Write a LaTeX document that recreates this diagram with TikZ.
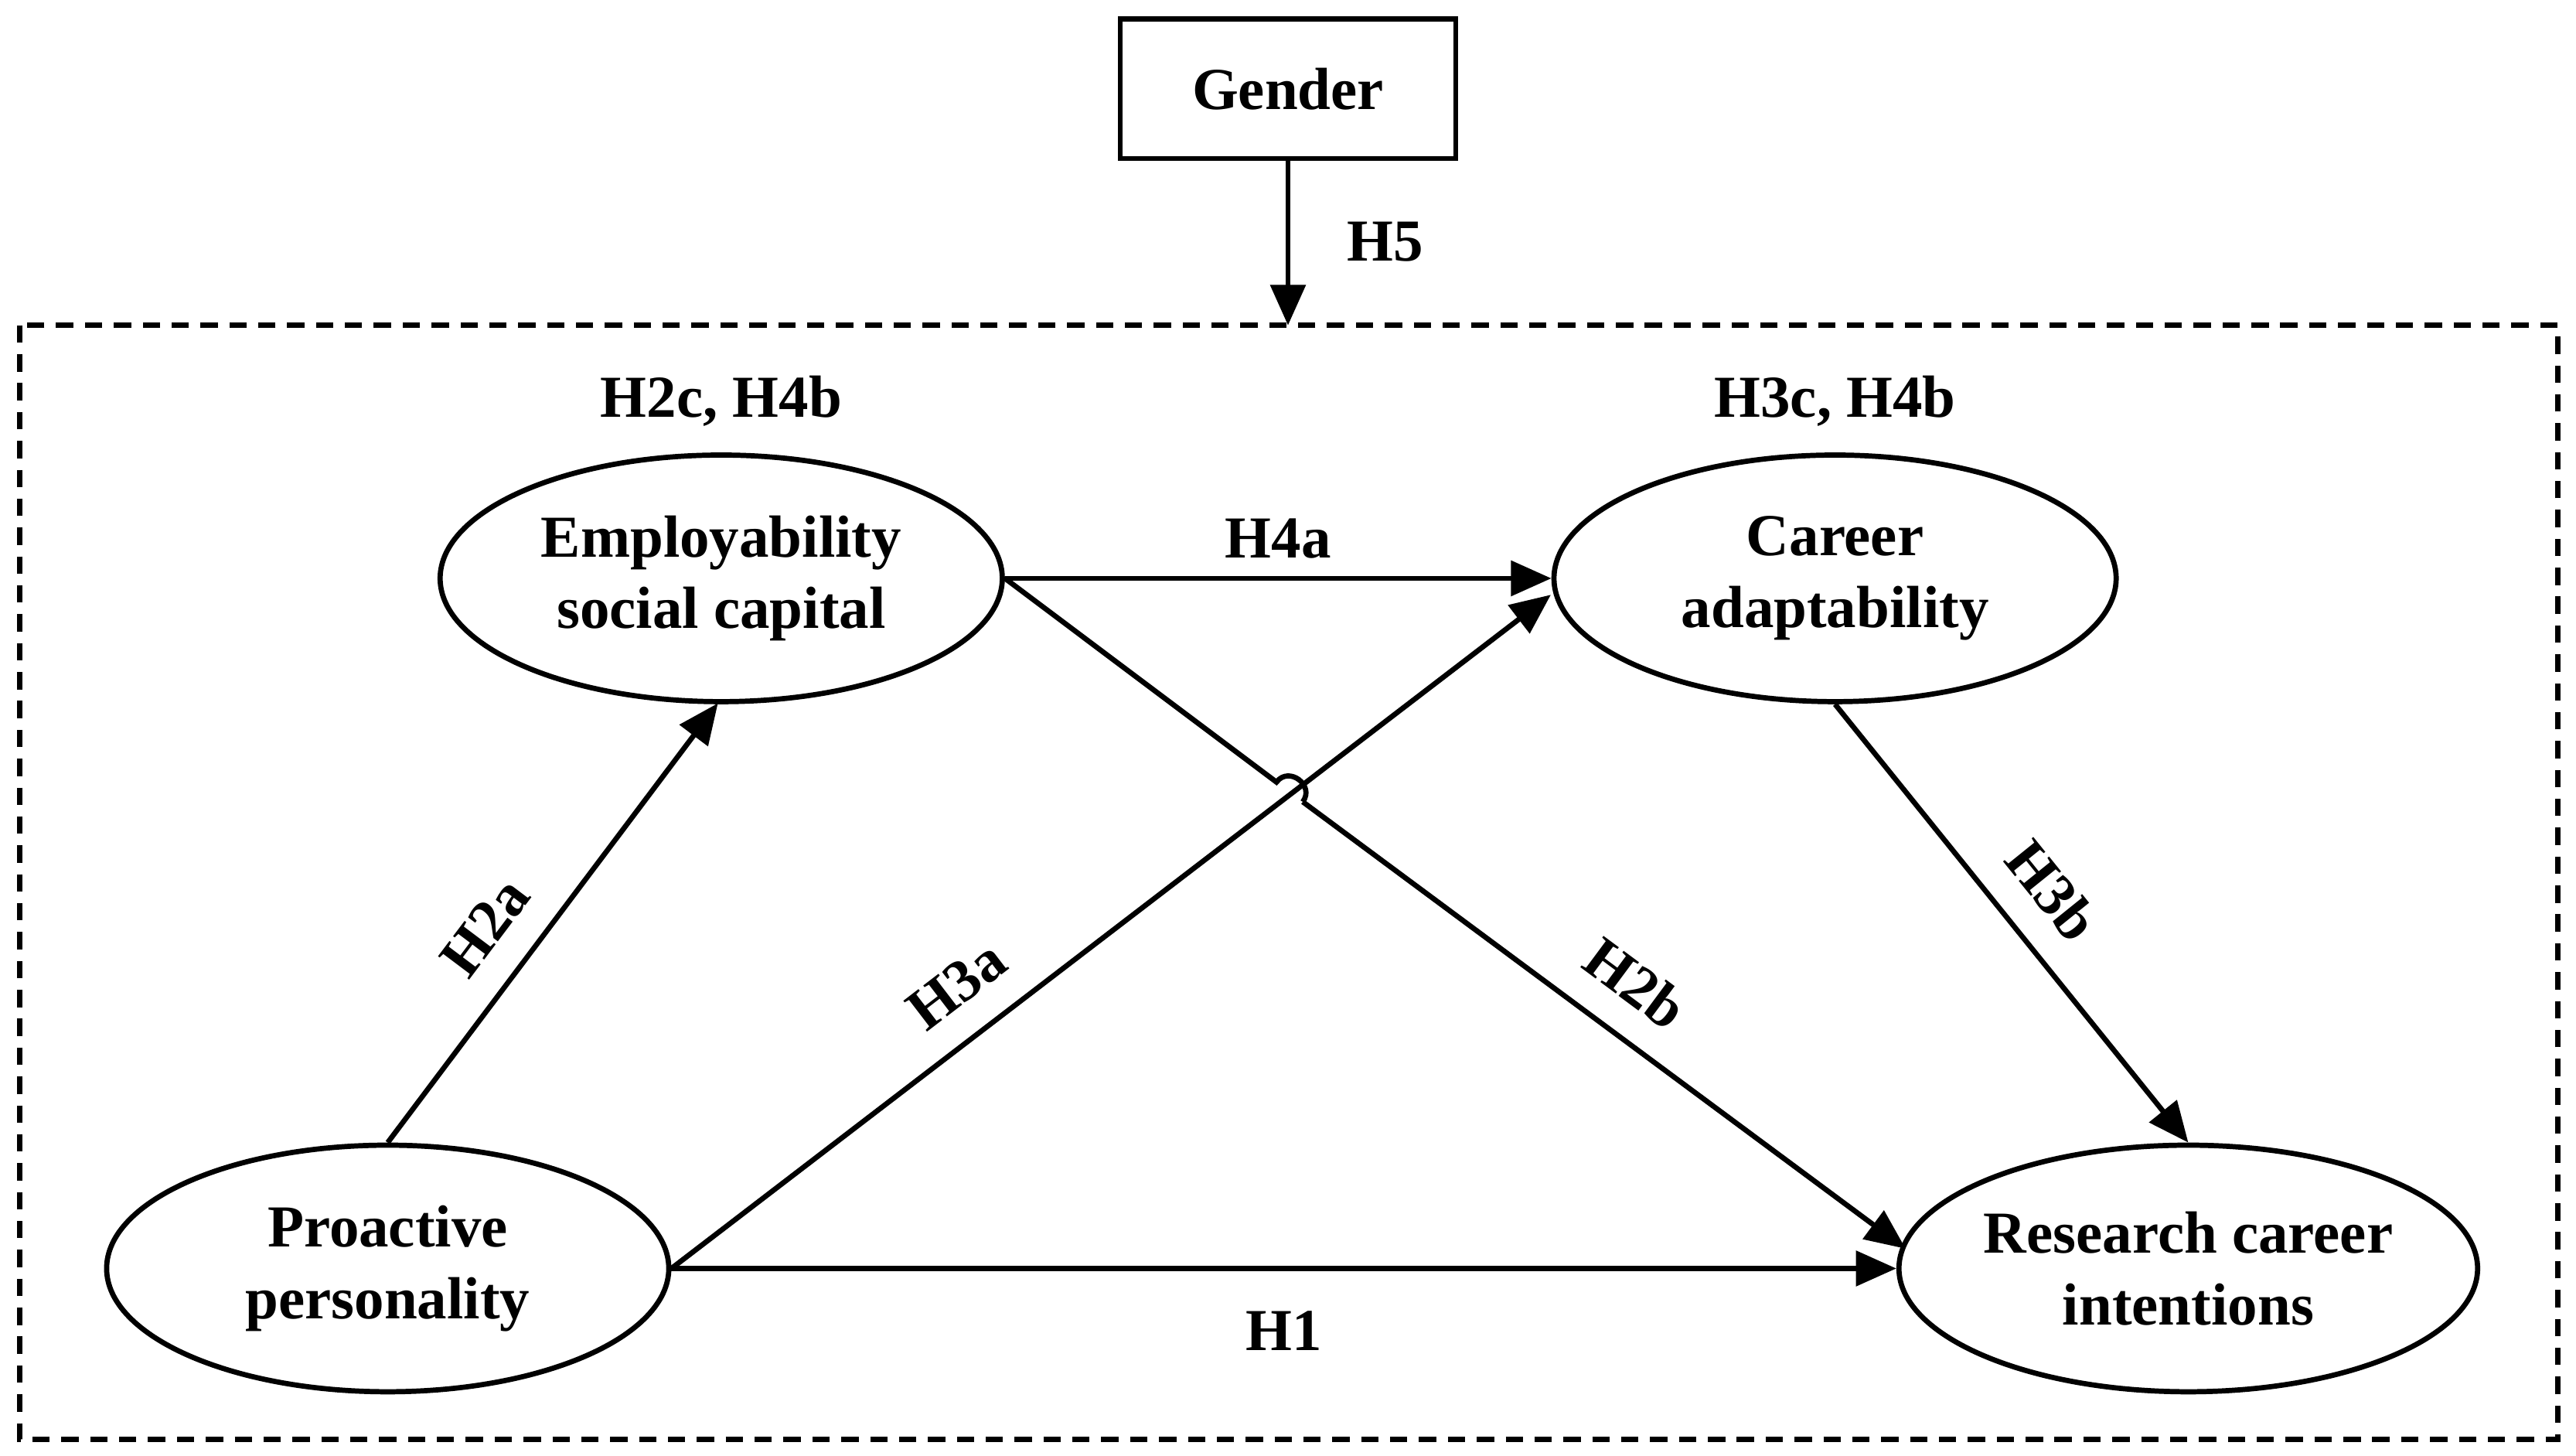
\documentclass[tikz,border=0pt]{standalone}
\usepackage{fontspec}
\setmainfont{Liberation Serif}
\usetikzlibrary{shapes.geometric,arrows.meta}
\begin{document}
\begin{tikzpicture}[x=0.01cm,y=-0.01cm,
  every node/.style={font=\fontsize{10.3}{12.4}\selectfont\bfseries},
  ell/.style={draw,line width=0.9pt,ellipse,minimum width=3.42cm,minimum height=1.5cm,inner sep=0pt,align=center},
  arr/.style={line width=0.9pt,-{Triangle[length=7pt,width=6pt]}},
  lab/.style={inner sep=1pt}]
\useasboundingbox (0,0) rectangle (1568,886);
\node[draw,line width=0.9pt,minimum width=2.04cm,minimum height=0.85cm] (g) at (784,54) {Gender};
\draw[line width=0.9pt,dashed,dash pattern=on 3pt off 2pt] (12,198) rectangle (1557,876);
\coordinate (top) at (784,198);
\draw[arr] (g.south) -- (top);
\node[lab] (l5) at (843,147) {H5};
\node[ell] (esc) at (439,352) {Employability\\social capital};
\node[ell] (ca) at (1117,352) {Career\\adaptability};
\node[ell] (pp) at (236,772) {Proactive\\personality};
\node[ell] (rci) at (1332,772) {Research career\\intentions};
\node[lab] (l1) at (439,244) {H2c, H4b};
\node[lab] (l2) at (1117,244) {H3c, H4b};
\draw[arr] (pp.north) -- (437,428) node[lab,pos=0.42,sloped,above=4pt] {H2a};
\draw[arr] (esc.east) -- (ca.west) node[lab,midway,above=2pt] {H4a};
\draw[arr] (pp.east) -- (944,362) node[lab,pos=0.36,sloped,above=4pt] {H3a};
\coordinate (h1) at (777,476);
\coordinate (h2) at (793,488);
\draw[line width=0.9pt] (esc.east) -- (h1) to[bend left=90,looseness=1.6] (h2);
\draw[arr] (h2) -- (1160,760) node[lab,pos=0.5,sloped,above=4pt] {H2b};
\draw[arr] (ca.south) -- (rci.north) node[lab,midway,sloped,above=4pt] {H3b};
\draw[arr] (pp.east) -- (rci.west) node[lab,midway,below=6pt] {H1};
\end{tikzpicture}
\end{document}
